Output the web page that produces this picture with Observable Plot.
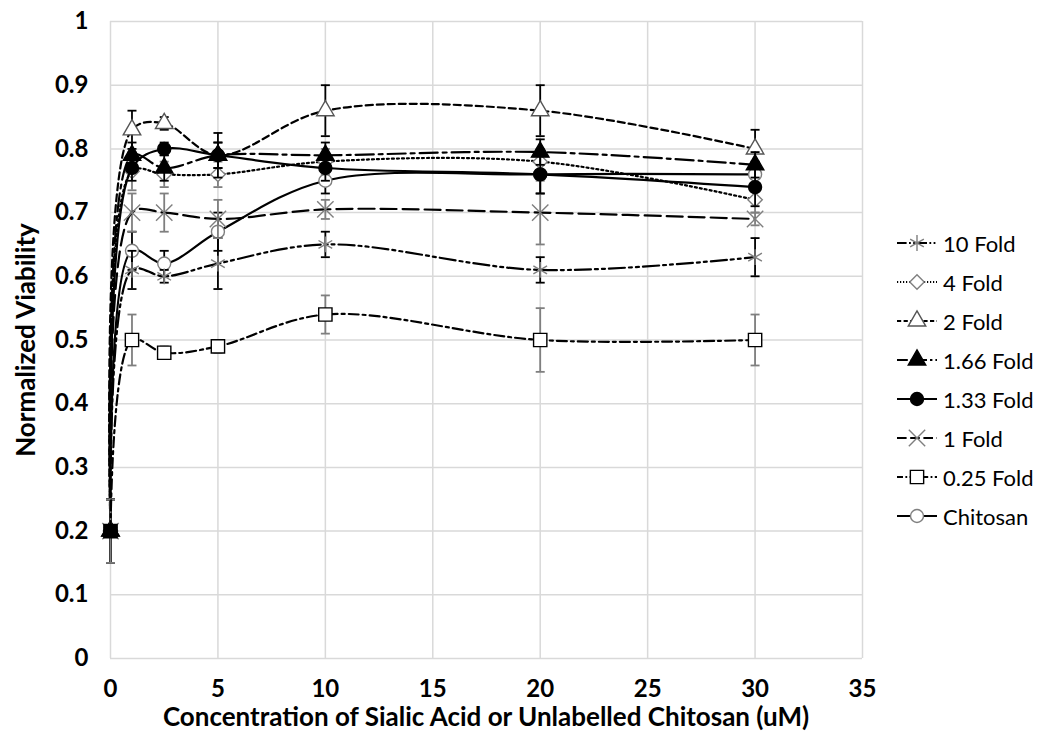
<!DOCTYPE html>
<html><head><meta charset="utf-8">
<script src="https://cdn.jsdelivr.net/npm/d3@7"></script>
<script src="https://cdn.jsdelivr.net/npm/@observablehq/plot@0.6"></script>
<style>
body{margin:0;background:#fff;}
#wrap{position:relative;width:1037px;height:739px;font-family:Lato,sans-serif;color:#000;overflow:hidden;}
#wrap svg.plot{position:absolute;left:0;top:0;}
.xtitle{position:absolute;left:110px;width:752px;top:700px;text-align:center;font-weight:bold;font-size:26px;white-space:nowrap;}
.ytitle{position:absolute;left:25px;top:340px;transform:translate(-50%,-50%) rotate(-90deg);font-weight:bold;font-size:26px;white-space:nowrap;}
.legend{position:absolute;left:896px;top:0;}
.lrow{position:absolute;left:0;height:28px;display:flex;align-items:center;white-space:nowrap;font-size:22px;}
.lrow svg{display:block;margin-right:5px;}
</style></head><body><div id="wrap"></div>
<script>
// ---- data ----
const concentrations = [0, 1, 2.5, 5, 10, 20, 30];
const seriesNames = ["10 Fold", "4 Fold", "2 Fold", "1.66 Fold", "1.33 Fold", "1 Fold", "0.25 Fold", "Chitosan"];
const fold10   = [0.20, 0.61, 0.60, 0.62, 0.65, 0.61, 0.63];
const fold10Err = [0.05, 0.03, 0.01, 0.04, 0.02, 0.02, 0.03];
const fold4    = [0.20, 0.765, 0.76, 0.76, 0.78, 0.78, 0.72];
const fold4Err  = [0.05, 0.03, 0.02, 0.02, 0.02, 0.02, 0.02];
const fold2    = [0.20, 0.83, 0.84, 0.79, 0.86, 0.86, 0.80];
const fold2Err  = [0.05, 0.03, 0.01, 0.02, 0.04, 0.04, 0.03];
const fold166  = [0.20, 0.79, 0.77, 0.79, 0.79, 0.795, 0.775];
const fold166Err = [0.05, 0.02, 0.02, 0.02, 0.02, 0.02, 0.02];
const fold133  = [0.20, 0.77, 0.80, 0.79, 0.77, 0.76, 0.74];
const fold133Err = [0.05, 0.02, 0.01, 0.035, 0.02, 0.03, 0.03];
const fold1    = [0.20, 0.70, 0.70, 0.69, 0.705, 0.70, 0.69];
const fold1Err  = [0.05, 0.03, 0.03, 0.03, 0.015, 0.05, 0.01];
const fold025  = [0.20, 0.50, 0.48, 0.49, 0.54, 0.50, 0.50];
const fold025Err = [0.05, 0.04, 0.01, 0.01, 0.03, 0.05, 0.04];
const chitosan = [0.20, 0.64, 0.62, 0.67, 0.75, 0.76, 0.76];
const chitosanErr = [0.05, 0.03, 0.02, 0.03, 0.02, 0.03, 0.02];
const xTicks = [0, 5, 10, 15, 20, 25, 30, 35];
const yTicks = [0, 0.1, 0.2, 0.3, 0.4, 0.5, 0.6, 0.7, 0.8, 0.9, 1];
const yTickLabels = ["0", "0.1", "0.2", "0.3", "0.4", "0.5", "0.6", "0.7", "0.8", "0.9", "1"];
const xTitle = "Concentration of Sialic Acid or Unlabelled Chitosan (uM)";
const yTitle = "Normalized Viability";

// ---- styles ----
const GRAY = "#7f7f7f";
const styles = [
  {vals: fold10,  errs: fold10Err,  dash: "16,4,3,4,3,4", symbol: d3.symbolAsterisk, r: 7.5, fill: "none", mstroke: GRAY,   bar: "#000"},
  {vals: fold4,   errs: fold4Err,   dash: "2,3",          symbol: d3.symbolDiamond2, r: 6.5, fill: "#fff", mstroke: GRAY,   bar: GRAY},
  {vals: fold2,   errs: fold2Err,   dash: "7,4",          symbol: d3.symbolTriangle, r: 6.5, fill: "#fff", mstroke: "#555", bar: "#000"},
  {vals: fold166, errs: fold166Err, dash: "18,5,4,5",     symbol: d3.symbolTriangle, r: 6.5, fill: "#000", mstroke: "#000", bar: "#000"},
  {vals: fold133, errs: fold133Err, dash: null,           symbol: d3.symbolCircle,   r: 6.5, fill: "#000", mstroke: "#000", bar: "#000"},
  {vals: fold1,   errs: fold1Err,   dash: "16,6",         symbol: d3.symbolTimes,    r: 7.5, fill: "none", mstroke: GRAY,   bar: GRAY},
  {vals: fold025, errs: fold025Err, dash: "10,4,3,4",     symbol: d3.symbolSquare,   r: 7.5, fill: "#fff", mstroke: "#000", bar: GRAY},
  {vals: chitosan, errs: chitosanErr, dash: null,         symbol: d3.symbolCircle,   r: 6.5, fill: "#fff", mstroke: GRAY,   bar: "#000"}
];

const capSymbol = {draw(ctx) { ctx.moveTo(-4.5, 0); ctx.lineTo(4.5, 0); }};

const marks = [
  Plot.gridX({ticks: xTicks, stroke: "#d9d9d9", strokeOpacity: 1, strokeWidth: 1.5}),
  Plot.gridY({ticks: yTicks, stroke: "#d9d9d9", strokeOpacity: 1, strokeWidth: 1.5}),
  Plot.axisX({ticks: xTicks, tickSize: 0, tickPadding: 21, label: null, fontSize: 24, fontWeight: "bold"}),
  Plot.axisY({ticks: yTicks, tickSize: 0, tickPadding: 22, label: null, fontSize: 24, fontWeight: "bold",
    tickFormat: (d) => yTickLabels[yTicks.indexOf(d)] ?? String(d)})
];

const order = [7, 0, 5, 1, 2, 3, 4, 6];
for (const si of order) {
  const s = styles[si];
  const rows = concentrations.map((x, i) => ({x, y: s.vals[i], e: s.errs[i]}));
  marks.push(
    Plot.ruleX(rows, {x: "x", y1: (d) => d.y - d.e, y2: (d) => d.y + d.e, stroke: s.bar, strokeWidth: 1.8}),
    Plot.dot(rows, {x: "x", y: (d) => d.y - d.e, symbol: capSymbol, stroke: s.bar, strokeWidth: 1.8}),
    Plot.dot(rows, {x: "x", y: (d) => d.y + d.e, symbol: capSymbol, stroke: s.bar, strokeWidth: 1.8}),
    Plot.line(rows, {x: "x", y: "y", curve: "catmull-rom", stroke: "#000", strokeWidth: 2.2, strokeDasharray: s.dash ?? undefined}),
    Plot.dot(rows, {x: "x", y: "y", symbol: s.symbol, r: s.r, fill: si === 6 ? (d) => (d.x === 0 ? "#000" : "#fff") : s.fill, stroke: s.mstroke, strokeWidth: 1.4})
  );
}

const chart = Plot.plot({
  width: 1037,
  height: 739,
  marginLeft: 110,
  marginRight: 175,
  marginTop: 21,
  marginBottom: 81,
  style: {fontFamily: "Lato, sans-serif", background: "transparent", color: "#000"},
  x: {domain: [0, 35]},
  y: {domain: [0, 1]},
  marks
});
chart.classList.add("plot");
const wrap = document.getElementById("wrap");
wrap.appendChild(chart);

const xt = document.createElement("div"); xt.className = "xtitle"; xt.textContent = xTitle; wrap.appendChild(xt);
const yt = document.createElement("div"); yt.className = "ytitle"; yt.textContent = yTitle; wrap.appendChild(yt);

// legend
const legend = document.createElement("div"); legend.className = "legend"; wrap.appendChild(legend);
seriesNames.forEach((name, i) => {
  const s = styles[i];
  const row = document.createElement("div"); row.className = "lrow";
  row.style.top = (243 + i * 39 - 14) + "px";
  const svg = d3.create("svg").attr("width", 42).attr("height", 24);
  svg.append("line").attr("x1", 1).attr("x2", 41).attr("y1", 12).attr("y2", 12)
    .attr("stroke", "#000").attr("stroke-width", 2).attr("stroke-dasharray", s.dash ? s.dash.split(",").map(v => v * 0.6).join(",") : null);
  const size = Math.PI * s.r * s.r;
  svg.append("path").attr("transform", "translate(21,12)").attr("d", d3.symbol(s.symbol, size)())
    .attr("fill", s.fill).attr("stroke", s.mstroke).attr("stroke-width", 1.4);
  row.appendChild(svg.node());
  const t = document.createElement("span"); t.textContent = name; row.appendChild(t);
  legend.appendChild(row);
});
</script></body></html>
